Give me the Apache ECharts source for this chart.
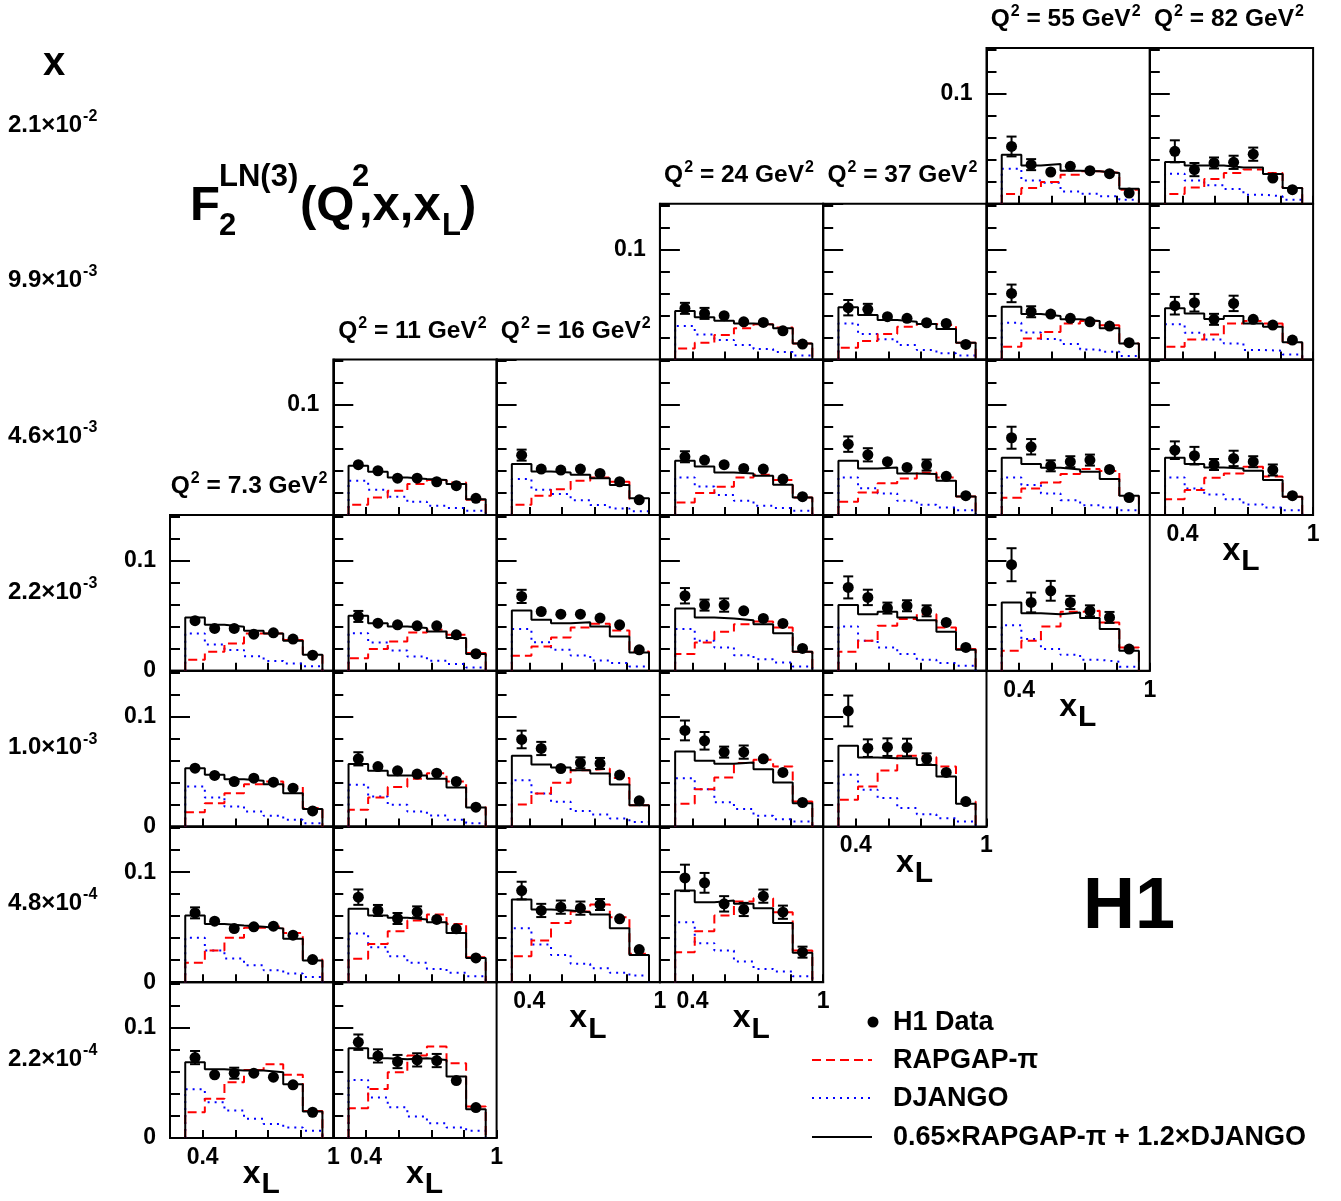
<!DOCTYPE html>
<html><head><meta charset="utf-8">
<script src="https://cdn.jsdelivr.net/npm/echarts@6/dist/echarts.min.js"></script>
<style>html,body{margin:0;padding:0;background:#fff}#c{width:1341px;height:1201px}</style>
</head><body><div id="c"></div>
<script>
// ---- data ----
const q2Labels = ['7.3','11','16','24','37','55','82'];
const xValueLabels = ['2.1','9.9','4.6','2.2','1.0','4.8','2.2'];
const xValueExps   = ['-2','-3','-3','-3','-3','-4','-4'];
const xlEdges = [0.32,0.41,0.50,0.59,0.68,0.77,0.86,0.95];
const xlTickLabels = ['0.4','1'];
// panel p sits in column panelCol[p] (Q2 bin) and row panelRow[p] (x bin)
const panelCol = [0,0,0,0,1,1,1,1,1,2,2,2,2,3,3,3,3,3,4,4,4,4,5,5,5,5,6,6,6];
const panelRow = [3,4,5,6,2,3,4,5,6,2,3,4,5,1,2,3,4,5,1,2,3,4,0,1,2,3,0,1,2];

const h1Data = [
[0.0455,0.0385,0.0385,0.0333,0.0345,0.0288,0.0142],
[0.053,0.0464,0.0409,0.0439,0.0403,0.0348,0.0142],
[0.063,0.0555,0.0488,0.0503,0.0509,0.0427,0.0206],
[0.073,0.0573,0.0588,0.0588,0.0552,0.0482,0.0233],
[0.0458,0.0403,0.0336,0.0336,0.0303,0.0267,0.0152],
[0.0494,0.0433,0.0418,0.0409,0.0409,0.0327,0.0155],
[0.0615,0.0545,0.0506,0.0476,0.0485,0.0409,0.0176],
[0.0773,0.0652,0.0579,0.0639,0.057,0.0485,0.0221],
[0.087,0.0745,0.0694,0.0709,0.0703,0.0521,0.0276],
[0.0545,0.0418,0.0409,0.0418,0.0379,0.0303,0.0139],
[0.0676,0.0539,0.0515,0.0515,0.0479,0.0418,0.0191],
[0.0791,0.0709,0.0527,0.0579,0.0573,0.0467,0.0233],
[0.0833,0.0652,0.0682,0.0673,0.0706,0.0576,0.0297],
[0.0464,0.0418,0.0397,0.0342,0.0336,0.026,0.0139],
[0.053,0.05,0.0458,0.0424,0.0418,0.0327,0.0167],
[0.0682,0.0597,0.0597,0.0545,0.0476,0.043,0.0203],
[0.0873,0.0779,0.0676,0.0676,0.0615,0.0491,0.0218],
[0.0948,0.0903,0.0712,0.0661,0.0782,0.0636,0.0273],
[0.047,0.0455,0.0388,0.0373,0.0333,0.0327,0.0136],
[0.0645,0.0548,0.0485,0.0433,0.0455,0.0352,0.0176],
[0.0758,0.0667,0.057,0.0591,0.0545,0.044,0.0212],
[0.105,0.0712,0.0721,0.0718,0.0615,0.0491,0.0227],
[0.052,0.0355,0.0288,0.034,0.030,0.0273,0.0097],
[0.060,0.0433,0.0412,0.0373,0.0342,0.0303,0.0152],
[0.0703,0.0621,0.0448,0.0485,0.050,0.0415,0.016],
[0.0964,0.0621,0.0727,0.0621,0.0545,0.0485,0.0197],
[0.0476,0.031,0.037,0.0376,0.045,0.0233,0.0127],
[0.0488,0.0515,0.0364,0.0509,0.0364,0.0312,0.0176],
[0.059,0.054,0.046,0.0515,0.0485,0.041,0.0176]
];
const h1Err = [
[0.004,0.003,0.003,0.003,0.003,0.003,0.002],
[0.004,0.003,0.003,0.003,0.003,0.003,0.002],
[0.005,0.003,0.003,0.003,0.003,0.003,0.002],
[0.006,0.003,0.005,0.003,0.003,0.003,0.002],
[0.004,0.003,0.003,0.003,0.003,0.003,0.002],
[0.005,0.003,0.003,0.003,0.003,0.003,0.002],
[0.006,0.004,0.003,0.003,0.003,0.003,0.002],
[0.007,0.005,0.005,0.005,0.003,0.003,0.002],
[0.007,0.006,0.006,0.006,0.006,0.003,0.003],
[0.005,0.003,0.003,0.003,0.003,0.003,0.002],
[0.006,0.003,0.003,0.003,0.003,0.003,0.002],
[0.008,0.006,0.003,0.005,0.005,0.003,0.003],
[0.008,0.006,0.006,0.006,0.005,0.003,0.004],
[0.005,0.005,0.003,0.003,0.003,0.003,0.002],
[0.005,0.003,0.003,0.003,0.003,0.003,0.002],
[0.007,0.005,0.006,0.003,0.003,0.003,0.002],
[0.009,0.008,0.005,0.006,0.004,0.003,0.003],
[0.012,0.009,0.007,0.006,0.006,0.006,0.005],
[0.007,0.005,0.003,0.003,0.003,0.003,0.002],
[0.007,0.006,0.004,0.003,0.005,0.003,0.003],
[0.010,0.007,0.005,0.005,0.005,0.003,0.003],
[0.014,0.008,0.008,0.008,0.005,0.003,0.003],
[0.009,0.005,0.003,0.003,0.003,0.003,0.002],
[0.008,0.005,0.003,0.003,0.003,0.003,0.002],
[0.010,0.007,0.005,0.005,0.005,0.003,0.003],
[0.015,0.009,0.009,0.006,0.005,0.005,0.003],
[0.010,0.006,0.005,0.006,0.006,0.003,0.003],
[0.008,0.008,0.005,0.007,0.003,0.003,0.003],
[0.008,0.008,0.005,0.007,0.005,0.005,0.003]
];
const rapgap = [
[0.010,0.0173,0.0248,0.034,0.034,0.028,0.015],
[0.013,0.0212,0.0303,0.0385,0.0409,0.0364,0.0167],
[0.0176,0.0288,0.0403,0.0494,0.0509,0.0448,0.0206],
[0.0233,0.0355,0.0506,0.0618,0.067,0.0573,0.0245],
[0.0094,0.016,0.0221,0.0282,0.0318,0.0297,0.0139],
[0.0115,0.0197,0.0267,0.0348,0.0373,0.0327,0.0161],
[0.0152,0.0264,0.0358,0.0433,0.0485,0.0409,0.0182],
[0.0212,0.0348,0.0464,0.0561,0.0615,0.053,0.0227],
[0.027,0.0445,0.0597,0.0748,0.083,0.0679,0.0285],
[0.0094,0.0176,0.0236,0.0312,0.0342,0.0303,0.0145],
[0.0136,0.0221,0.0303,0.0394,0.0427,0.0367,0.0176],
[0.020,0.030,0.0397,0.0512,0.0527,0.044,0.0194],
[0.0236,0.0379,0.0539,0.0642,0.0706,0.0591,0.0258],
[0.010,0.0152,0.0221,0.0282,0.032,0.029,0.0145],
[0.0115,0.020,0.0258,0.0342,0.0367,0.0318,0.0161],
[0.0152,0.0258,0.0355,0.0424,0.0448,0.0394,0.0173],
[0.0206,0.0339,0.0445,0.0576,0.0606,0.0545,0.0227],
[0.0273,0.0464,0.0606,0.0733,0.0764,0.0636,0.0288],
[0.0106,0.0167,0.023,0.0297,0.0321,0.031,0.0152],
[0.0121,0.0206,0.029,0.0333,0.0388,0.0342,0.017],
[0.0173,0.0273,0.0409,0.047,0.0515,0.0394,0.0197],
[0.0242,0.0364,0.0509,0.0642,0.063,0.0545,0.0227],
[0.0088,0.0142,0.0197,0.0264,0.0294,0.028,0.0127],
[0.0115,0.019,0.025,0.0327,0.0348,0.031,0.0145],
[0.0158,0.0242,0.0297,0.0373,0.042,0.040,0.0167],
[0.0182,0.0273,0.0403,0.0536,0.0545,0.0439,0.0212],
[0.0088,0.0148,0.0224,0.028,0.031,0.028,0.0142],
[0.0115,0.018,0.0227,0.0327,0.035,0.0327,0.0152],
[0.0145,0.0227,0.034,0.0379,0.044,0.035,0.0167]
];
const django = [
[0.034,0.024,0.019,0.0133,0.009,0.0067,0.0042],
[0.0364,0.0264,0.0182,0.0136,0.0097,0.0061,0.003],
[0.0403,0.0288,0.0215,0.0155,0.0109,0.0079,0.0048],
[0.0442,0.0324,0.0248,0.0173,0.0127,0.0094,0.0064],
[0.0312,0.023,0.0167,0.0121,0.0085,0.0064,0.004],
[0.0342,0.0258,0.0185,0.013,0.0091,0.0061,0.003],
[0.0379,0.0273,0.0197,0.0136,0.010,0.0061,0.003],
[0.0442,0.0318,0.0236,0.0176,0.0121,0.0085,0.0055],
[0.0527,0.0367,0.0279,0.0194,0.0133,0.0094,0.0064],
[0.0327,0.023,0.0191,0.0136,0.0091,0.0061,0.0036],
[0.0379,0.026,0.0191,0.0139,0.0094,0.007,0.004],
[0.0421,0.030,0.0224,0.0142,0.0109,0.0073,0.0042],
[0.0491,0.0342,0.0248,0.0167,0.0127,0.0085,0.006],
[0.0303,0.0227,0.0176,0.013,0.0094,0.0067,0.0036],
[0.0342,0.026,0.0182,0.013,0.0085,0.0064,0.004],
[0.0379,0.0273,0.0212,0.0142,0.0106,0.0076,0.004],
[0.0439,0.0339,0.0221,0.016,0.0097,0.0067,0.0045],
[0.0545,0.0355,0.0288,0.0188,0.0121,0.0097,0.0055],
[0.0327,0.023,0.0182,0.013,0.0085,0.0055,0.0036],
[0.0342,0.0245,0.0197,0.013,0.0094,0.007,0.0045],
[0.0403,0.0273,0.0212,0.0152,0.010,0.007,0.0045],
[0.047,0.0333,0.0258,0.0167,0.0112,0.0076,0.0045],
[0.0318,0.021,0.019,0.0112,0.009,0.0067,0.0036],
[0.0333,0.0245,0.0185,0.014,0.009,0.007,0.003],
[0.0342,0.0273,0.0197,0.0136,0.009,0.007,0.0045],
[0.0415,0.0288,0.0197,0.0145,0.010,0.0082,0.0036],
[0.0273,0.021,0.0167,0.0133,0.0082,0.0067,0.0036],
[0.032,0.0242,0.018,0.0145,0.0085,0.0079,0.0045],
[0.0342,0.0242,0.0188,0.0145,0.0097,0.007,0.0045]
];
const combined = [
[0.0485,0.0418,0.040,0.0364,0.034,0.0273,0.0145],
[0.053,0.047,0.043,0.0415,0.0385,0.0303,0.016],
[0.0606,0.053,0.0515,0.0503,0.0488,0.0394,0.0197],
[0.0688,0.0624,0.0612,0.0612,0.0597,0.0488,0.0239],
[0.0448,0.0394,0.0342,0.0327,0.0318,0.0282,0.0145],
[0.05,0.0433,0.0403,0.0388,0.0358,0.0297,0.0152],
[0.0567,0.0506,0.0464,0.0464,0.0433,0.0355,0.0173],
[0.0667,0.0606,0.0585,0.057,0.0545,0.0448,0.0221],
[0.0815,0.0724,0.0715,0.0724,0.0709,0.0558,0.0261],
[0.0464,0.0397,0.0388,0.0367,0.0336,0.0273,0.0152],
[0.0548,0.0464,0.0433,0.0442,0.0403,0.0312,0.0167],
[0.0642,0.0564,0.0536,0.0512,0.0482,0.0382,0.0194],
[0.0752,0.0661,0.0652,0.0636,0.0615,0.0491,0.0248],
[0.0439,0.0382,0.0352,0.0327,0.0318,0.0282,0.0145],
[0.0494,0.0442,0.0388,0.0379,0.0358,0.0276,0.0161],
[0.0567,0.0485,0.0476,0.046,0.0424,0.0342,0.0173],
[0.0682,0.0597,0.057,0.0582,0.0521,0.040,0.0212],
[0.0833,0.0727,0.0742,0.0712,0.0673,0.0539,0.0267],
[0.0473,0.0403,0.0358,0.0342,0.0321,0.0276,0.0152],
[0.0494,0.0424,0.0433,0.0379,0.0373,0.0312,0.017],
[0.0597,0.0515,0.0536,0.0485,0.046,0.0355,0.0191],
[0.0733,0.0627,0.0621,0.0621,0.056,0.0455,0.0206],
[0.0445,0.0348,0.036,0.030,0.0294,0.0279,0.0136],
[0.0479,0.0412,0.0394,0.0364,0.0348,0.0282,0.0145],
[0.0521,0.0464,0.043,0.0415,0.0394,0.0327,0.0176],
[0.0621,0.0524,0.0515,0.053,0.0479,0.0379,0.0182],
[0.0379,0.0348,0.0348,0.033,0.033,0.027,0.0142],
[0.0464,0.0418,0.0367,0.0394,0.0327,0.0297,0.0155],
[0.0521,0.0464,0.0433,0.0424,0.0403,0.0318,0.0167]
];

// ---- layout / style ----
const FONT = 'Liberation Sans';
const GL = 170, GT = 48, GW = 163.3, GH = 155.7;
const YMAX = 0.1415;
const near = (a, b) => Math.abs(a - b) < 1e-6;
const centers = xlEdges.slice(0, -1).map((e, i) => (e + xlEdges[i + 1]) / 2);
const stepPts = vals => {
  const pts = [[xlEdges[0], 0]];
  vals.forEach((v, i) => { pts.push([xlEdges[i], v]); pts.push([xlEdges[i + 1], v]); });
  pts.push([xlEdges[xlEdges.length - 1], 0]);
  return pts;
};
const ctx = document.createElement('canvas').getContext('2d');
function tw(s, size) { ctx.font = 'bold ' + size + 'px "' + FONT + '"'; return ctx.measureText(s).width; }
function T(s, x, base, size, align) {
  return { type: 'text', x: x, y: base - 0.3465 * size, silent: true, z: 100,
    style: { text: s, fontSize: size, fontFamily: FONT, fontWeight: 'bold', fill: '#000',
      align: align || 'left', verticalAlign: 'middle' } };
}
const blackLine = { color: '#000', width: 2 };
const grids = [], xAxes = [], yAxes = [], series = [], graphics = [];

panelCol.forEach((c, p) => {
  const r = panelRow[p];
  const leftMost = !panelCol.some((c2, q) => panelRow[q] === r && c2 < c);
  const bottomMost = !panelRow.some((r2, q) => panelCol[q] === c && r2 > r);
  grids.push({ left: GL + c * GW, top: GT + r * GH, width: GW, height: GH, show: true,
    borderColor: '#000', borderWidth: 2, backgroundColor: 'transparent', containLabel: false });
  xAxes.push({ type: 'value', gridIndex: p, min: 0.25, max: 1, interval: 0.15,
    axisLine: { show: true, onZero: false, lineStyle: blackLine },
    axisTick: { show: true, inside: true, length: 8, lineStyle: blackLine },
    splitLine: { show: false },
    axisLabel: { show: bottomMost, margin: 8, color: '#000', fontFamily: FONT, fontWeight: 'bold', fontSize: 23,
      showMinLabel: true, showMaxLabel: true,
      formatter: v => near(v, 0.4) ? xlTickLabels[0] : (near(v, 1) ? xlTickLabels[1] : '') } });
  yAxes.push({ type: 'value', gridIndex: p, position: 'left', offset: 0, min: 0, max: YMAX, interval: 0.02,
    axisLine: { show: true, onZero: false, lineStyle: blackLine },
    axisTick: { show: true, inside: true, length: 10, lineStyle: blackLine },
    axisLabel: { show: false }, splitLine: { show: false } });
  yAxes.push({ type: 'value', gridIndex: p, position: 'left', offset: 0, min: 0, max: YMAX, interval: 0.1,
    axisLine: { show: false, onZero: false },
    axisTick: { show: true, inside: true, length: 20, lineStyle: blackLine },
    axisLabel: { show: leftMost, margin: 14, color: '#000', fontFamily: FONT, fontWeight: 'bold', fontSize: 23,
      showMinLabel: true, showMaxLabel: false,
      formatter: v => near(v, 0.1) ? '0.1' : ((near(v, 0) && c === 0) ? '0' : '') },
    splitLine: { show: false } });
  const yi = 2 * p;
  series.push({ type: 'line', xAxisIndex: p, yAxisIndex: yi, data: stepPts(django[p]), symbol: 'none',
    lineStyle: { color: '#0000ff', width: 2, type: [2, 5] }, silent: true, z: 2 });
  series.push({ type: 'line', xAxisIndex: p, yAxisIndex: yi, data: stepPts(rapgap[p]), symbol: 'none',
    lineStyle: { color: '#ff0000', width: 2, type: [9, 5] }, silent: true, z: 3 });
  series.push({ type: 'line', xAxisIndex: p, yAxisIndex: yi, data: stepPts(combined[p]), symbol: 'none',
    lineStyle: { color: '#000', width: 2, type: 'solid' }, silent: true, z: 4 });
  series.push({ type: 'custom', xAxisIndex: p, yAxisIndex: yi, silent: true, z: 5,
    data: h1Data[p].map((v, i) => [centers[i], v, h1Err[p][i]]),
    renderItem: (params, api) => {
      const x = api.value(0), y = api.value(1), e = api.value(2);
      const a = api.coord([x, y + e]), b = api.coord([x, y - e]);
      if ((b[1] - a[1]) / 2 < 5) return { type: 'group', children: [] };
      const st = { stroke: '#000', lineWidth: 2 };
      return { type: 'group', children: [
        { type: 'line', shape: { x1: a[0], y1: a[1], x2: b[0], y2: b[1] }, style: st },
        { type: 'line', shape: { x1: a[0] - 5, y1: a[1], x2: a[0] + 5, y2: a[1] }, style: st },
        { type: 'line', shape: { x1: b[0] - 5, y1: b[1], x2: b[0] + 5, y2: b[1] }, style: st }
      ] };
    } });
  series.push({ type: 'scatter', xAxisIndex: p, yAxisIndex: yi, silent: true, z: 6,
    data: h1Data[p].map((v, i) => [centers[i], v]), symbol: 'circle', symbolSize: 11,
    itemStyle: { color: '#000', opacity: 1 } });
});

// --- texts ---
graphics.push(T('x', 54, 78, 40, 'center'));
xValueLabels.forEach((lab, r) => {
  const base = GT + (r + 0.5) * GH + 7.5;
  const main = lab + '×10';
  graphics.push(T(main, 8, base, 24));
  graphics.push(T(xValueExps[r], 8 + tw(main, 24) + 1, base - 11.5, 16));
});
q2Labels.forEach((q, c) => {
  const rows = panelRow.filter((r, p) => panelCol[p] === c);
  const top = GT + Math.min.apply(null, rows) * GH;
  const base = top - 20;
  const mid = ' = ' + q + ' GeV';
  const total = tw('Q', 24.5) + tw('2', 16) + tw(mid, 24.5) + tw('2', 16);
  let x = GL + (c + 0.5) * GW - 3.5 - total / 2;
  graphics.push(T('Q', x, base, 24.5)); x += tw('Q', 24.5) + 1;
  graphics.push(T('2', x, base - 10.5, 16)); x += tw('2', 16);
  graphics.push(T(mid, x, base, 24.5)); x += tw(mid, 24.5) + 1;
  graphics.push(T('2', x, base - 10.5, 16));
  // x_L axis title under the bottom panel of this column
  const axisY = GT + (Math.max.apply(null, rows) + 1) * GH;
  const cx = GL + (c + 0.5) * GW;
  const xw = tw('x', 32);
  graphics.push(T('x', cx - xw / 2, axisY + 47.5, 32));
  graphics.push(T('L', cx + xw / 2 + 1, axisY + 57.5, 30));
});
// title F2^LN(3)(Q^2,x,x_L)
graphics.push(T('F', 190, 223, 49));
graphics.push(T('2', 219, 237, 31));
graphics.push(T('LN(3)', 219, 188, 31));
graphics.push(T('(Q', 300, 223, 49));
graphics.push(T('2', 352, 188, 31));
graphics.push(T(',x,x', 359, 223, 49));
graphics.push(T('L', 442, 237, 31));
graphics.push(T(')', 460, 223, 49));
// H1 logo
graphics.push(T('H1', 1083, 933, 72));
// legend
graphics.push({ type: 'circle', shape: { cx: 873, cy: 1022, r: 5.5 }, style: { fill: '#000' }, silent: true });
graphics.push(T('H1 Data', 893, 1032, 27));
graphics.push({ type: 'line', shape: { x1: 812, y1: 1060, x2: 872, y2: 1060 }, style: { stroke: '#ff0000', lineWidth: 2, lineDash: [9, 5] }, silent: true });
graphics.push(T('RAPGAP-π', 893, 1070, 27));
graphics.push({ type: 'line', shape: { x1: 812, y1: 1098, x2: 872, y2: 1098 }, style: { stroke: '#0000ff', lineWidth: 2, lineDash: [2, 5] }, silent: true });
graphics.push(T('DJANGO', 893, 1108, 27));
graphics.push({ type: 'line', shape: { x1: 812, y1: 1137, x2: 872, y2: 1137 }, style: { stroke: '#000', lineWidth: 2 }, silent: true });
graphics.push(T('0.65×RAPGAP-π + 1.2×DJANGO', 893, 1147, 27));

const chart = echarts.init(document.getElementById('c'), null, { renderer: 'canvas' });
chart.setOption({
  backgroundColor: '#fff',
  animation: false,
  grid: grids, xAxis: xAxes, yAxis: yAxes, series: series,
  graphic: { elements: graphics }
});
</script>
</body></html>
